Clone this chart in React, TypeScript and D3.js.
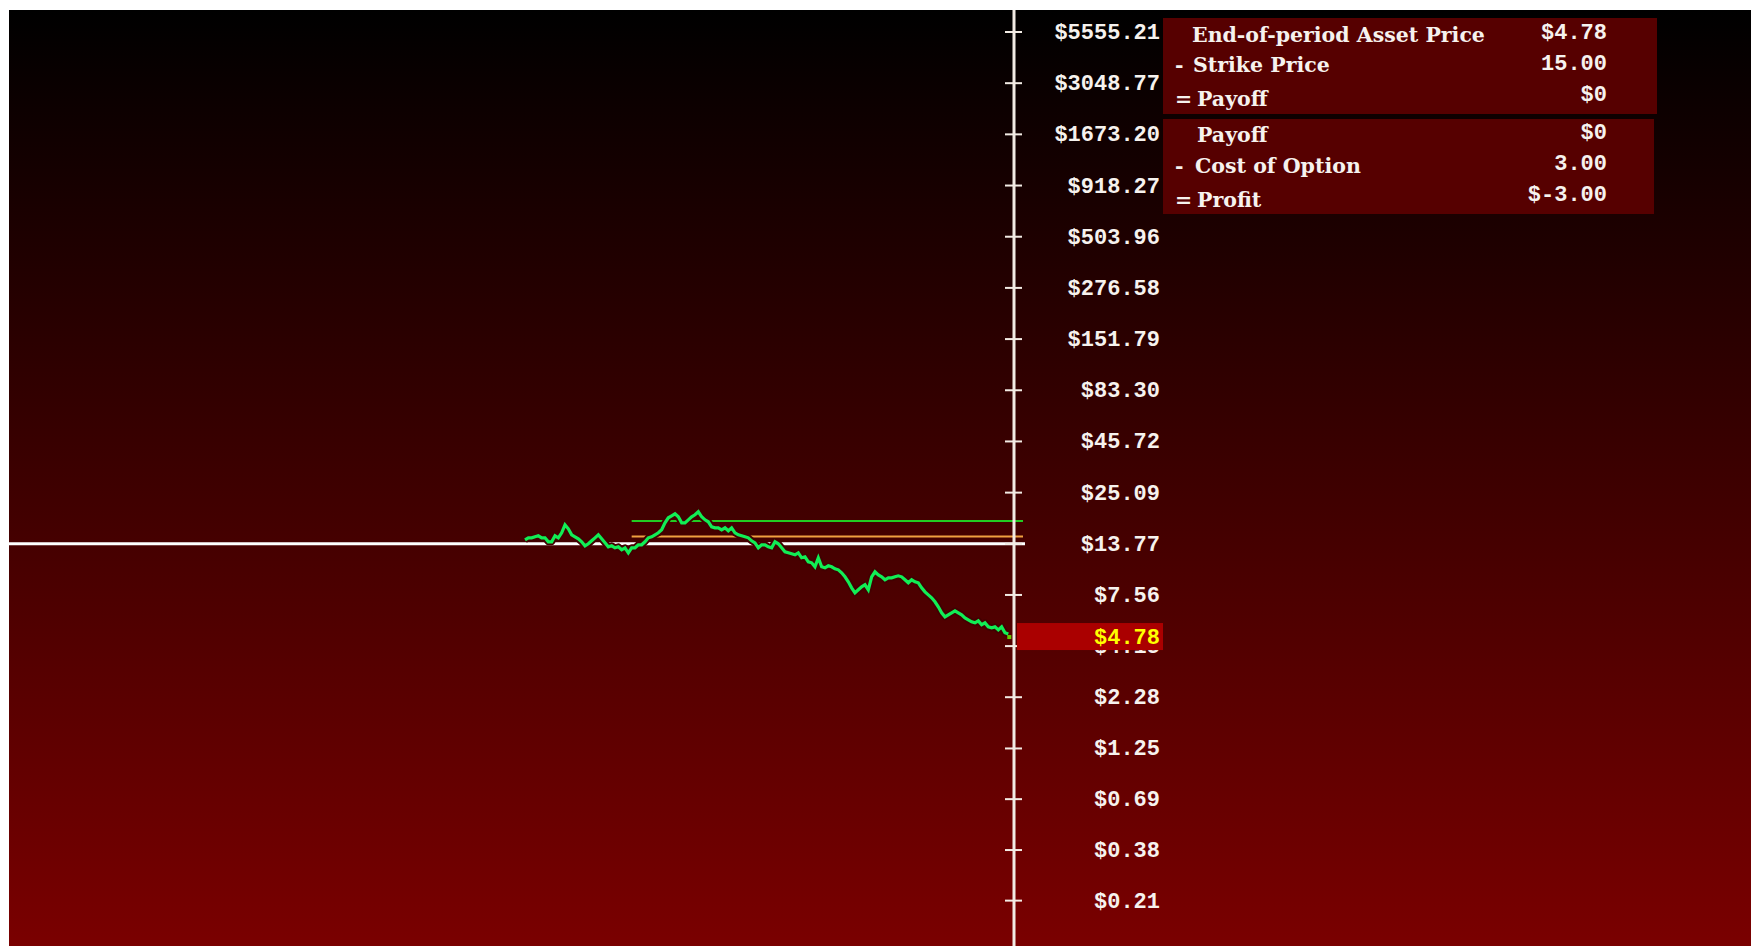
import React from "react";
import * as d3 from "d3";

const tickValues = [5555.21, 3048.77, 1673.2, 918.27, 503.96, 276.58, 151.79, 83.3, 45.72, 25.09, 13.77, 7.56, 4.15, 2.28, 1.25, 0.69, 0.38, 0.21, 0.11];
const tickLabels = ["$5555.21", "$3048.77", "$1673.20", "$918.27", "$503.96", "$276.58", "$151.79", "$83.30", "$45.72", "$25.09", "$13.77", "$7.56", "$4.15", "$2.28", "$1.25", "$0.69", "$0.38", "$0.21", "$0.11"];

const prices = [
  14.43, 14.77, 14.77, 14.95, 15.12, 14.77, 14.77, 14.1, 14.1, 15.12, 14.77, 15.67, 17.2, 16.42, 15.3, 14.95, 14.6, 14.1, 13.45, 13.77, 14.26, 14.77, 15.3, 14.6, 13.93, 13.29, 13.45, 13.14, 13.29, 12.84, 13.14, 12.39, 13.14,
  13.14, 13.61, 13.61, 14.1, 14.77, 14.95, 15.3, 15.67, 16.23, 17.61, 18.68, 19.12, 19.57, 18.9, 17.61, 17.61, 18.24, 18.9, 19.35, 20.04, 18.9, 18.24, 17.82, 16.81, 16.61, 16.61, 16.23, 16.61, 16.04, 16.61, 15.67, 15.3, 15.12, 14.95, 14.77, 14.26,
  13.93, 13.14, 13.61, 13.61, 13.29, 13.14, 14.1, 13.77, 13.14, 12.54, 12.39, 12.25, 12.1, 12.39, 11.69, 11.82, 11.15, 11.02, 10.52, 11.69, 10.52, 10.39, 10.64, 10.52, 10.27, 10.15, 9.8, 9.35, 8.82, 8.22, 7.75, 8.03, 8.32, 8.52, 8.03, 9.35,
  9.92, 9.57, 9.35, 9.03, 9.24, 9.24, 9.35, 9.46, 9.35, 9.03, 8.72, 9.03, 8.82, 8.72, 8.22, 7.84, 7.57, 7.31, 6.98, 6.58, 6.13, 5.85, 5.99, 6.13, 6.28, 6.13, 5.99, 5.78, 5.65, 5.52, 5.45, 5.58, 5.33, 5.45, 5.2, 5.14, 5.2, 5.02, 5.2, 4.85,
  4.78,
];

const referencePrice = 13.77;
const strikePrice = 15.0;
const optionCost = 3.0;
const purchaseIndex = 32;

const monoFont = "'Liberation Mono', 'DejaVu Sans Mono', monospace";
const serifFont = "'DejaVu Serif', 'Liberation Serif', serif";

export default function App() {
  const W = 1751;
  const H = 946;
  const left = 9;
  const top = 10;
  const axisX = 1014;
  const labelRight = 1160;

  const y = d3.scaleLog().domain([tickValues[0], tickValues[10]]).range([32, 543.8]);
  const x = d3.scaleLinear().domain([0, prices.length - 1]).range([525, 1008.3]);
  const line = d3
    .line<number>()
    .x((_, i) => x(i))
    .y((d) => y(d));
  const pathD = line(prices) || "";

  const endPrice = prices[prices.length - 1];
  const payoff = Math.max(0, endPrice - strikePrice);
  const profit = payoff - optionCost;
  const breakEven = strikePrice + optionCost;
  const money = (v: number) => (v === 0 ? "$0" : "$" + v.toFixed(2));
  const yEnd = y(endPrice);

  const textFill = "#f6f2ee";

  return (
    <svg
      width={W}
      height={H}
      style={{ position: "fixed", left: 0, top: 0, display: "block" }}
    >
      <defs>
        <linearGradient id="bg" gradientUnits="userSpaceOnUse" x1={0} y1={top} x2={0} y2={H}>
          <stop offset="0" stopColor="#000000" />
          <stop offset="1" stopColor="#7a0000" />
        </linearGradient>
      </defs>
      <rect x={0} y={0} width={W} height={H} fill="#ffffff" />
      <rect x={left} y={top} width={W - left} height={H - top} fill="url(#bg)" />

      {/* reference (white), strike (orange), break-even (green) lines */}
      <line x1={left} x2={axisX + 11} y1={y(referencePrice)} y2={y(referencePrice)} stroke="#ffffff" strokeWidth={3} />
      <line x1={x(purchaseIndex)} x2={axisX + 9} y1={y(strikePrice)} y2={y(strikePrice)} stroke="#f0a040" strokeWidth={2} />
      <line x1={x(purchaseIndex)} x2={axisX + 9} y1={y(breakEven)} y2={y(breakEven)} stroke="#22cc22" strokeWidth={2} />

      {/* price path */}
      <path d={pathD} fill="none" stroke="#420000" strokeWidth={7} strokeLinejoin="round" />
      <path d={pathD} fill="none" stroke="#11ee55" strokeWidth={3.2} strokeLinejoin="miter" />
      <rect x={x(prices.length - 1) - 1} y={yEnd + 1} width={4} height={4} fill="#66cc00" />

      {/* axis */}
      <line x1={axisX} x2={axisX} y1={top} y2={H} stroke="#f2ebe4" strokeWidth={3} />
      {tickValues.map((v, i) => (
        <g key={i}>
          <line x1={axisX - 9} x2={axisX + 8} y1={y(v)} y2={y(v)} stroke="#f2ebe4" strokeWidth={2} />
          <text
            x={labelRight}
            y={y(v) + 7}
            textAnchor="end"
            fontFamily={monoFont}
            fontWeight="bold"
            fontSize={22}
            fill={textFill}
          >
            {tickLabels[i]}
          </text>
        </g>
      ))}

      {/* end price highlight */}
      <rect x={axisX + 3} y={yEnd - 11} width={labelRight + 3 - (axisX + 3)} height={27} fill="#aa0000" />
      <text x={labelRight} y={yEnd + 10} textAnchor="end" fontFamily={monoFont} fontWeight="bold" fontSize={22} fill="#ffff00">
        {money(endPrice)}
      </text>

      {/* payoff box */}
      <rect x={1163} y={18} width={494} height={96} fill="#560000" />
      <g fontFamily={serifFont} fontWeight="bold" fontSize={20.5} fill={textFill}>
        <text x={1192} y={42}>End-of-period Asset Price</text>
        <text x={1175} y={72}>-</text>
        <text x={1193} y={72}>Strike Price</text>
        <text x={1175} y={106}>=</text>
        <text x={1197} y={106}>Payoff</text>
      </g>
      <g fontFamily={monoFont} fontWeight="bold" fontSize={22} fill={textFill} textAnchor="end">
        <text x={1607} y={39}>{money(endPrice)}</text>
        <text x={1607} y={70}>{strikePrice.toFixed(2)}</text>
        <text x={1607} y={101}>{money(payoff)}</text>
      </g>

      {/* profit box */}
      <rect x={1163} y={119} width={491} height={95} fill="#560000" />
      <g fontFamily={serifFont} fontWeight="bold" fontSize={20.5} fill={textFill}>
        <text x={1197} y={142}>Payoff</text>
        <text x={1175} y={173}>-</text>
        <text x={1195} y={173}>Cost of Option</text>
        <text x={1175} y={207}>=</text>
        <text x={1197} y={207}>Profit</text>
      </g>
      <g fontFamily={monoFont} fontWeight="bold" fontSize={22} fill={textFill} textAnchor="end">
        <text x={1607} y={139}>{money(payoff)}</text>
        <text x={1607} y={170}>{optionCost.toFixed(2)}</text>
        <text x={1607} y={201}>{"$" + profit.toFixed(2)}</text>
      </g>
    </svg>
  );
}
